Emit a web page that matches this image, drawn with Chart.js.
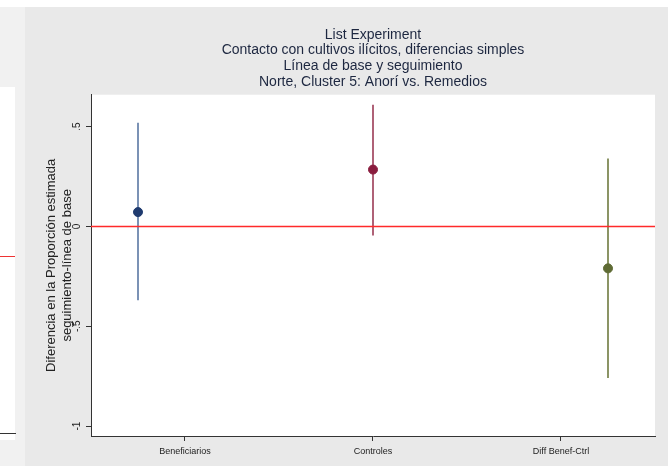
<!DOCTYPE html>
<html>
<head>
<meta charset="utf-8">
<title>List Experiment</title>
<script src="https://cdn.jsdelivr.net/npm/chart.js@4"></script>
<style>
    html, body {
        margin: 0;
        padding: 0;
        width: 668px;
        height: 466px;
        overflow: hidden;
        background: #fff;
        font-family: "Liberation Sans", Arial, sans-serif;
    }
    /* piece of the neighbouring chart on the left edge */
    #prev { position: absolute; left: 0; top: 7px; width: 25px; height: 459px; background: #f1f1f1; }
    #prevPlot { position: absolute; left: 0; top: 80px; width: 15px; height: 353px; background: #fff; }
    #prevZero { position: absolute; left: 0; top: 256px; width: 15px; height: 1px; background: #ee3333; }
    #prevAxis { position: absolute; left: 0; top: 433px; width: 16px; height: 1px; background: #333; }
    #panel { position: absolute; left: 25px; top: 7px; width: 643px; height: 459px; background: #e9e9e9; }
    canvas { display: block; }
</style>
</head>
<body>
<div id="prev"><div id="prevPlot"></div></div>
<div id="prevZero"></div>
<div id="prevAxis"></div>
<div id="panel"><canvas id="listChart" width="643" height="459"></canvas></div>

<script>
// Data
const categories = ['Beneficiarios', 'Controles', 'Diff Benef-Ctrl'];
const groupX = [1, 2, 3];
const estimates = [0.072, 0.285, -0.21];
const ciLower = [-0.37, -0.045, -0.76];
const ciUpper = [0.52, 0.61, 0.34];

// Axis ticks
const labelX = [1.2, 2, 2.8];
const xRange = [0.8, 3.2];
const yTicks = [0.5, 0, -0.5, -1];
const yTickLabels = ['.5', '0', '-.5', '-1'];
const yRange = [-1.05, 0.66];

const pointColors = ['#1f3b6f', '#8a1c3e', '#5f6b34'];
const lineColors = ['#5a77a3', '#9b3a55', '#6f7a3f'];

const titleLines = [
    'List Experiment',
    'Contacto con cultivos ilícitos, diferencias simples',
    'Línea de base y seguimiento',
    'Norte, Cluster 5: Anorí vs. Remedios'
];
const yTitleLines = ['Diferencia en la Proporción estimada', 'seguimiento-línea de base'];

// White plot region
const plotBackground = {
    id: 'plotBackground',
    beforeDraw(chart) {
        const { ctx, chartArea } = chart;
        ctx.save();
        ctx.fillStyle = '#ffffff';
        ctx.fillRect(chartArea.left, chartArea.top, chartArea.right - chartArea.left, chartArea.bottom - chartArea.top);
        ctx.restore();
    }
};

// Build datasets
const datasets = [];
categories.forEach(function(name, i) {
    datasets.push({
        label: name + ' IC',
        data: [{ x: groupX[i], y: ciLower[i] }, { x: groupX[i], y: ciUpper[i] }],
        showLine: true,
        borderColor: lineColors[i],
        borderWidth: 1.6,
        pointRadius: 0,
        order: 3
    });
});
datasets.push({
    label: 'cero',
    data: xRange.map(function(x) { return { x: x, y: 0 }; }),
    showLine: true,
    borderColor: '#ff2a2a',
    borderWidth: 1.4,
    pointRadius: 0,
    order: 2
});
categories.forEach(function(name, i) {
    datasets.push({
        label: name,
        data: [{ x: groupX[i], y: estimates[i] }],
        pointRadius: 4.5,
        pointBackgroundColor: pointColors[i],
        pointBorderColor: pointColors[i],
        order: 1
    });
});

new Chart(document.getElementById('listChart'), {
    type: 'scatter',
    data: { datasets: datasets },
    options: {
        responsive: false,
        animation: false,
        layout: { padding: { left: 0, right: 13, top: 0, bottom: 0 } },
        plugins: {
            legend: { display: false },
            tooltip: { enabled: false },
            title: {
                display: true,
                text: titleLines,
                fullSize: false,
                color: '#1d2740',
                font: { family: '"Liberation Sans", Arial, sans-serif', size: 14, weight: 'normal', lineHeight: 1.12 },
                padding: { top: 20, bottom: 5 }
            }
        },
        scales: {
            x: {
                type: 'linear',
                min: xRange[0],
                max: xRange[1],
                afterBuildTicks: function(scale) {
                    scale.ticks = labelX.map(function(v) { return { value: v }; });
                },
                afterFit: function(scale) { scale.height = 30; },
                ticks: {
                    autoSkip: false,
                    maxRotation: 0,
                    padding: 5,
                    color: '#222',
                    font: { family: '"Liberation Sans", Arial, sans-serif', size: 9 },
                    callback: function(value, index) { return categories[index]; }
                },
                grid: { drawOnChartArea: false, tickLength: 5, color: '#333' },
                border: { color: '#333', width: 1 }
            },
            y: {
                type: 'linear',
                min: yRange[0],
                max: yRange[1],
                afterBuildTicks: function(scale) {
                    scale.ticks = yTicks.map(function(v) { return { value: v }; });
                },
                afterFit: function(scale) { scale.width = 66; },
                ticks: {
                    minRotation: 90,
                    maxRotation: 90,
                    crossAlign: 'center',
                    padding: 3,
                    color: '#222',
                    font: { family: '"Liberation Sans", Arial, sans-serif', size: 10 },
                    callback: function(value, index) { return yTickLabels[index]; }
                },
                title: {
                    display: true,
                    text: yTitleLines,
                    color: '#222',
                    font: { family: '"Liberation Sans", Arial, sans-serif', size: 13, lineHeight: 1.2 },
                    padding: { top: 19, bottom: 0 }
                },
                grid: { drawOnChartArea: false, tickLength: 5, color: '#333' },
                border: { color: '#333', width: 1 }
            }
        }
    },
    plugins: [plotBackground]
});
</script>
</body>
</html>
